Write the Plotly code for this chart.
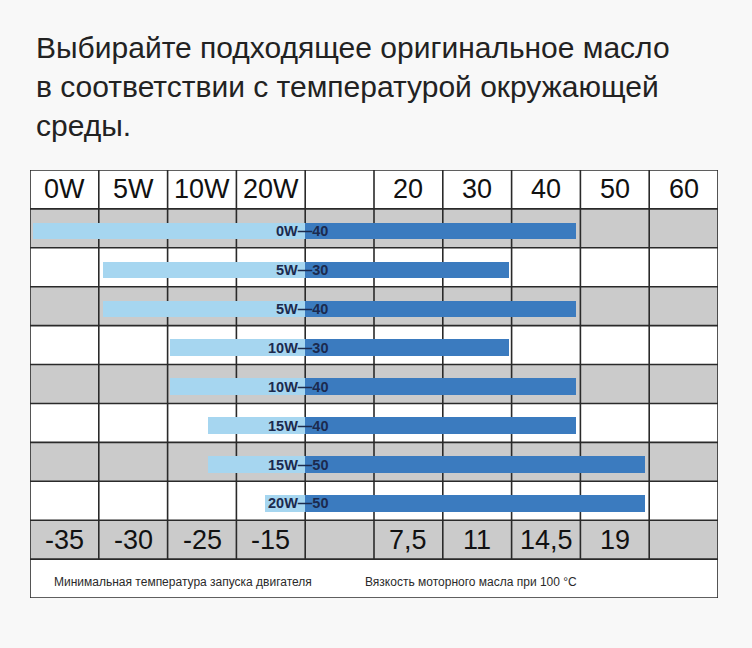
import plotly.graph_objects as go

# ---------------- data ----------------
header_labels = ["0W", "5W", "10W", "20W", "", "20", "30", "40", "50", "60"]
bottom_labels = ["-35", "-30", "-25", "-15", "", "7,5", "11", "14,5", "19", ""]
grades = ["0W-40", "5W-30", "5W-40", "10W-30", "10W-40", "15W-40", "15W-50", "20W-50"]
# bar extents in table-column units (column i spans i..i+1)
winter_start = [0.04, 1.06, 1.06, 2.03, 2.03, 2.59, 2.59, 3.42]
split_point = [4.0, 4.0, 4.0, 4.0, 4.0, 4.0, 4.0, 4.0]
summer_end = [7.94, 6.96, 7.94, 6.96, 7.94, 7.94, 8.94, 8.94]
row_shaded = [False, True, False, True, False, True, False, True, False, True, False]
note_left = "Минимальная температура запуска двигателя"
note_right = "Вязкость моторного масла при 100 °C"
title_lines = ["Выбирайте подходящее оригинальное масло",
               "в соответствии с температурой окружающей",
               "среды."]

# ---------------- layout constants ----------------
W, H = 752, 648
ML, MR, MT, MB = 30, 34, 170, 50
NCOL = len(header_labels)
NROW = len(row_shaded)
LIGHT = "#a6d6f0"
DARK = "#3b7bbf"
GRAY = "#cbcbcb"
LINE = "#2a2a2a"
FONT = "Liberation Sans, Arial, sans-serif"

fig = go.Figure()

rows_y = [i + 1 + 0.57 for i in range(len(grades))]
fig.add_trace(go.Bar(
    y=rows_y, x=[s - w for w, s in zip(winter_start, split_point)], base=winter_start,
    orientation="h", width=0.43, marker=dict(color=LIGHT, line=dict(width=0)),
    hoverinfo="skip", showlegend=False))
fig.add_trace(go.Bar(
    y=rows_y, x=[e - s for s, e in zip(split_point, summer_end)], base=split_point,
    orientation="h", width=0.43, marker=dict(color=DARK, line=dict(width=0)),
    hoverinfo="skip", showlegend=False))

shapes = []
# shaded rows
for r, sh in enumerate(row_shaded):
    if sh:
        shapes.append(dict(type="rect", xref="x", yref="y", x0=0, x1=NCOL, y0=r, y1=r + 1,
                           fillcolor=GRAY, line=dict(width=0), layer="below"))
# horizontal lines
for r in range(NROW + 1):
    shapes.append(dict(type="line", xref="x", yref="y", x0=0, x1=NCOL, y0=r, y1=r,
                       line=dict(color=LINE, width=1.6), layer="below"))
# vertical lines
for c in range(NCOL + 1):
    y1 = NROW if c in (0, NCOL) else NROW - 1
    shapes.append(dict(type="line", xref="x", yref="y", x0=c, x1=c, y0=0, y1=y1,
                       line=dict(color=LINE, width=1.6), layer="below"))

annotations = []
for c, t in enumerate(header_labels):
    if t:
        annotations.append(dict(x=c + 0.5, y=0.5, xref="x", yref="y", text=t, showarrow=False,
                                font=dict(family=FONT, size=27, color="#111111")))
for c, t in enumerate(bottom_labels):
    if t:
        annotations.append(dict(x=c + 0.5, y=NROW - 1.5, xref="x", yref="y", text=t, showarrow=False,
                                font=dict(family=FONT, size=27, color="#111111")))
for g, y in zip(grades, rows_y):
    annotations.append(dict(x=4.36, y=y, xref="x", yref="y", xanchor="right", text=g.replace("-", "—"),
                            showarrow=False,
                            font=dict(family=FONT, size=14.5, color="#1b2a4e", weight="bold")))
annotations.append(dict(x=0.32, y=NROW - 0.4, xref="x", yref="y", xanchor="left", text=note_left,
                        showarrow=False, font=dict(family=FONT, size=12, color="#2a2a2a")))
annotations.append(dict(x=4.84, y=NROW - 0.4, xref="x", yref="y", xanchor="left", text=note_right,
                        showarrow=False, font=dict(family=FONT, size=12, color="#2a2a2a")))
plot_h = H - MT - MB
annotations.append(dict(x=0, y=1 + (MT - 29) / plot_h, xref="paper", yref="paper", xanchor="left",
                        yanchor="top", xshift=4, align="left", text="<br>".join(title_lines),
                        showarrow=False, font=dict(family=FONT, size=30, color="#222222")))

fig.update_layout(
    width=W, height=H, margin=dict(l=ML, r=MR, t=MT, b=MB),
    paper_bgcolor="#f8f8f8", plot_bgcolor="#ffffff",
    xaxis=dict(range=[0, NCOL], visible=False, fixedrange=True),
    yaxis=dict(range=[NROW, 0], visible=False, fixedrange=True),
    shapes=shapes, annotations=annotations, bargap=0, barmode="overlay",
)
fig.write_html("out.html")
